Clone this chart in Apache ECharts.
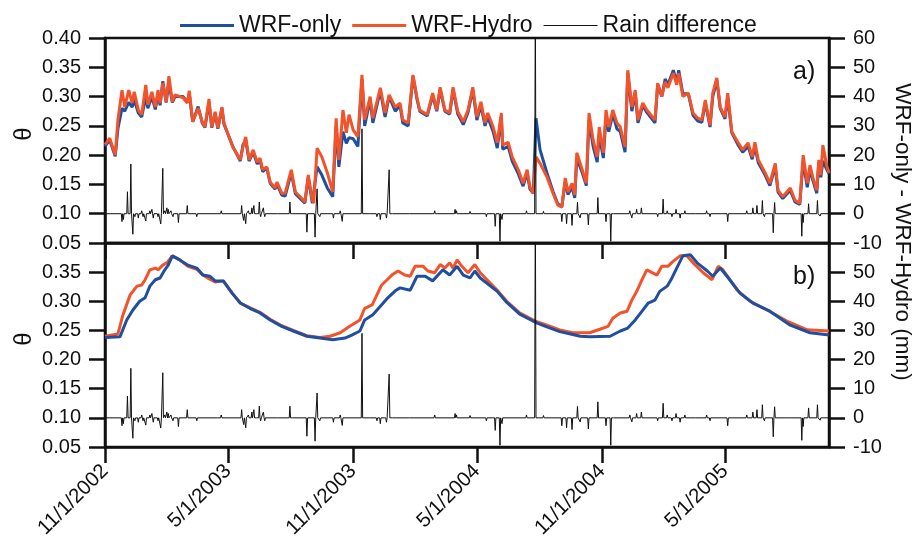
<!DOCTYPE html>
<html><head><meta charset="utf-8">
<script src="https://cdn.jsdelivr.net/npm/echarts@6/dist/echarts.min.js"></script>
<style>html,body{margin:0;padding:0;background:#fff}#c{width:917px;height:543px}</style>
</head><body><div id="c"></div>
<script>
// ---- x ticks (days since 11/1/2002) ----
const xMaxDay = 1065;
const xTickDays = [0, 181, 365, 547, 731, 912];
const xTickLabels = ['11/1/2002', '5/1/2003', '11/1/2003', '5/1/2004', '11/1/2004', '5/1/2005'];

// ---- panel a) ----
const topDays = [0,7,15,19,25,29,35,40,43,49,54,60,63,69,74,78,81,85,90,94,99,103,115,121,124,129,137,143,147,153,157,162,166,172,175,188,199,203,207,212,218,224,228,232,238,243,250,253,260,265,274,280,287,294,299,305,307,312,319,327,335,340,344,350,355,359,365,372,378,382,390,394,405,412,418,427,434,438,446,453,459,463,474,482,488,493,500,507,512,519,527,534,541,547,553,559,563,571,577,583,585,593,599,608,615,621,625,630,634,640,650,659,666,672,677,681,687,691,694,702,708,712,718,724,727,733,737,741,747,753,758,765,769,775,780,784,791,797,809,813,819,824,828,836,841,844,850,858,865,872,878,883,890,894,900,905,912,916,922,931,938,946,952,956,961,971,978,986,990,997,1008,1015,1022,1027,1033,1037,1041,1047,1050,1053,1056,1062,1065];
const topHydro = [.218,.229,.200,.260,.311,.282,.311,.289,.308,.277,.269,.320,.286,.308,.282,.311,.289,.323,.291,.335,.291,.303,.298,.289,.310,.257,.280,.257,.248,.296,.248,.274,.246,.282,.255,.214,.192,.214,.231,.192,.209,.188,.195,.175,.180,.154,.144,.154,.135,.135,.175,.137,.129,.120,.166,.123,.118,.212,.197,.170,.137,.263,.192,.277,.238,.269,.243,.231,.337,.260,.300,.263,.315,.272,.303,.282,.289,.260,.255,.337,.298,.277,.269,.306,.277,.316,.277,.272,.316,.274,.257,.277,.316,.265,.291,.255,.272,.248,.221,.272,.217,.222,.197,.175,.152,.175,.146,.135,.197,.186,.163,.135,.115,.111,.161,.137,.152,.132,.204,.175,.152,.272,.226,.197,.248,.204,.277,.248,.277,.255,.248,.214,.345,.282,.311,.260,.289,.277,.260,.323,.300,.325,.315,.340,.320,.340,.300,.306,.272,.263,.260,.294,.251,.306,.332,.282,.265,.306,.240,.222,.209,.221,.197,.222,.192,.170,.152,.186,.140,.129,.144,.123,.118,.200,.152,.183,.163,.140,.192,.166,.217,.180,.170];
const topOnly = [.215,.226,.198,.245,.280,.275,.290,.282,.295,.272,.265,.300,.280,.300,.278,.305,.285,.326,.290,.325,.290,.300,.300,.290,.305,.257,.283,.255,.247,.290,.247,.272,.245,.280,.253,.215,.190,.218,.225,.190,.205,.185,.192,.172,.178,.152,.142,.150,.132,.130,.170,.134,.126,.118,.162,.118,.115,.180,.166,.144,.129,.250,.180,.240,.220,.230,.228,.215,.330,.250,.295,.255,.310,.265,.300,.275,.285,.255,.250,.335,.295,.275,.267,.302,.275,.312,.275,.270,.312,.270,.252,.273,.312,.260,.285,.250,.265,.240,.212,.265,.210,.215,.190,.168,.147,.170,.142,.135,.263,.209,.170,.138,.117,.112,.155,.133,.145,.127,.195,.170,.148,.260,.215,.188,.235,.195,.265,.240,.270,.245,.240,.205,.340,.275,.305,.255,.285,.273,.255,.320,.300,.330,.320,.345,.325,.345,.305,.305,.268,.258,.256,.290,.248,.300,.328,.280,.262,.300,.238,.218,.205,.215,.193,.215,.187,.166,.148,.180,.137,.126,.140,.120,.116,.190,.145,.175,.158,.135,.188,.162,.190,.175,.168];

// ---- panel b) ----
const botHydroDays = [0,19,26,37,47,54,59,66,74,78,85,91,99,110,122,135,144,154,162,174,187,199,213,228,243,260,277,297,316,331,346,360,375,382,393,400,407,415,422,431,441,449,456,468,475,485,493,500,507,512,518,525,534,544,552,562,577,591,610,633,650,669,688,699,713,728,740,747,758,768,775,783,790,797,812,819,828,836,846,856,865,880,893,902,909,930,949,974,1003,1033,1065];
const botHydro = [.240,.244,.275,.311,.326,.328,.337,.354,.357,.354,.362,.366,.378,.371,.360,.355,.345,.338,.333,.335,.314,.297,.289,.281,.269,.258,.250,.241,.238,.240,.246,.257,.268,.288,.294,.311,.328,.337,.345,.352,.345,.343,.360,.360,.352,.349,.363,.357,.366,.357,.371,.360,.349,.363,.349,.337,.319,.300,.280,.266,.259,.251,.246,.246,.246,.252,.257,.271,.280,.283,.302,.319,.337,.354,.345,.360,.360,.369,.378,.378,.366,.349,.337,.360,.354,.319,.300,.285,.266,.251,.249];
const botOnlyDays = [0,22,32,41,51,59,66,74,81,88,93,99,110,122,135,144,154,162,174,187,199,213,228,243,260,277,297,316,335,353,363,375,382,394,407,416,427,434,449,459,471,482,497,507,518,527,537,544,552,577,591,610,633,650,669,688,699,713,743,758,769,780,790,799,809,816,827,834,841,850,861,871,886,894,905,915,934,953,978,1008,1037,1065];
const botOnly = [.238,.239,.268,.285,.300,.306,.326,.337,.340,.354,.362,.378,.371,.362,.357,.345,.343,.335,.335,.314,.297,.288,.280,.268,.257,.249,.240,.237,.234,.237,.242,.249,.268,.277,.294,.306,.318,.323,.319,.343,.343,.335,.354,.345,.360,.345,.340,.352,.340,.317,.298,.278,.264,.256,.248,.243,.240,.239,.240,.249,.254,.268,.283,.297,.302,.317,.326,.340,.357,.378,.380,.366,.352,.343,.357,.343,.314,.297,.283,.259,.246,.242];

// ---- rain difference spikes (mm), zero elsewhere ----
const rainDays = [7,25,27,33,38,41,44,49,54,56,60,66,69,71,78,82,85,88,91,93,97,100,108,121,135,154,167,171,201,204,207,211,216,219,222,227,229,233,235,255,272,277,297,309,312,316,336,346,349,378,390,400,405,407,414,418,424,449,485,515,517,537,561,574,581,584,620,633,645,672,679,687,695,699,711,725,737,744,747,772,775,782,789,813,821,827,834,840,846,853,870,885,890,916,944,953,959,967,970,983,985,1010,1025,1027,1035,1048,1052];
const rainDiff = [0.6,-2.7,-2,7.5,17,-7,-1,-1.5,1,-1,-2.5,1,1.5,-1.5,-1,-3.5,15.5,1,2,1.5,1,-1,-3,2.8,-1,0.5,0.5,1,2.8,-2.3,-3.4,1,2,2.8,-0.6,4,-1,2,-1,0.5,4,-0.5,-6.3,-8,8.5,-1,-1.5,1,-2.6,29,-0.5,-1,-2,0.5,-1.5,15,-0.5,-0.5,1,1.5,1,0.8,-1,-4.3,-9.4,-2,1,75,0.8,-2.7,-3.4,-4,3.9,-1.4,-3.8,5.5,-2.7,-9.4,0.5,1,-1.4,1.5,2,-1,5,1,-1,1.5,-1.5,1,0.5,1,-1,-2.7,1,2,2.8,4.5,-1,-6.5,3.8,0.5,-7.7,-3,3.4,4.5,-0.8];

const FONT = "'Liberation Sans', Arial, sans-serif";
const BLUE = '#1f4f9e', ORANGE = '#f2532a', INK = '#111';

function pairs(days, vals) { return days.map((d, i) => [d, vals[i]]); }
function rainSeriesData() {
  const out = [[0, 0]];
  for (let i = 0; i < rainDays.length; i++) {
    const d = rainDays[i];
    const last = out[out.length - 1][0];
    if (d - 1 > last) out.push([d - 1, 0]);
    out.push([d, rainDiff[i]]);
    const next = i + 1 < rainDays.length ? rainDays[i + 1] : xMaxDay;
    if (d + 1 < next) out.push([d + 1, 0]);
  }
  out.push([xMaxDay, 0]);
  return out;
}
const rainData = rainSeriesData();

const axisLine = { show: true, onZero: false, lineStyle: { color: INK, width: 2.5 } };
const tick = { show: true, inside: false, length: 16, lineStyle: { color: INK, width: 2.5 } };

function xAxis(idx, labels) {
  return {
    type: 'value', gridIndex: idx, min: 0, max: xMaxDay,
    axisLine: axisLine,
    axisTick: Object.assign({}, tick, { customValues: xTickDays }),
    axisLabel: labels ? {
      show: true, customValues: xTickDays, rotate: 45, margin: 21,
      fontSize: 20.5, fontFamily: FONT, color: INK,
      formatter: v => xTickLabels[xTickDays.indexOf(v)] || ''
    } : { show: false },
    splitLine: { show: false }
  };
}
function thetaAxis(idx, hideMax) {
  return {
    type: 'value', gridIndex: idx, position: 'left', min: 0.05, max: 0.40, interval: 0.05,
    axisLine: axisLine, axisTick: tick, splitLine: { show: false },
    axisLabel: { fontSize: 20, fontFamily: FONT, color: INK, margin: 24, showMaxLabel: !hideMax,
      formatter: v => v.toFixed(2) }
  };
}
function rainAxis(idx, hideMax) {
  return {
    type: 'value', gridIndex: idx, position: 'right', min: -10, max: 60, interval: 10,
    axisLine: axisLine, axisTick: tick, splitLine: { show: false },
    axisLabel: { fontSize: 20, fontFamily: FONT, color: INK, margin: 24, showMaxLabel: !hideMax }
  };
}
function line(name, xi, yi, data, color, width, z) {
  return { name, type: 'line', xAxisIndex: xi, yAxisIndex: yi, data, symbol: 'none', showSymbol: false,
    lineStyle: { color, width }, itemStyle: { color }, z, clip: true, animation: false };
}
function label(text, x, y, size, rot) {
  return { type: 'text', x, y, rotation: rot || 0,
    style: { text, fontSize: size, fontFamily: FONT, fill: INK,
      align: rot ? 'center' : 'left', verticalAlign: 'middle',
      textAlign: rot ? 'center' : 'left', textVerticalAlign: 'middle' } };
}

const chart = echarts.init(document.getElementById('c'), null, { renderer: 'canvas' });
chart.setOption({
  backgroundColor: '#fff',
  animation: false,
  textStyle: { fontFamily: FONT },
  legend: {
    left: 175, top: 9, itemWidth: 54, itemHeight: 3, itemGap: 11, symbolKeepAspect: true,
    textStyle: { fontSize: 23, fontFamily: FONT, color: INK },
    data: [
      { name: 'WRF-only', icon: 'rect' },
      { name: 'WRF-Hydro', icon: 'rect' },
      { name: 'Rain difference', icon: 'path://M0,0H54V1H0Z' }
    ]
  },
  grid: [
    { left: 105, top: 38, width: 724, height: 205, show: true, borderColor: INK, borderWidth: 2.5, outerBoundsMode: 'none', containLabel: false },
    { left: 105, top: 243, width: 724, height: 204, show: true, borderColor: INK, borderWidth: 2.5, outerBoundsMode: 'none', containLabel: false }
  ],
  xAxis: [xAxis(0, false), xAxis(1, true)],
  yAxis: [thetaAxis(0, false), rainAxis(0, false), thetaAxis(1, true), rainAxis(1, true)],
  graphic: [
    label('θ', 24, 134, 24, Math.PI / 2),
    label('θ', 24, 339, 24, Math.PI / 2),
    label('a)', 793, 72, 25),
    label('b)', 793, 277, 25),
    label('WRF-only - WRF-Hydro (mm)', 902, 232, 22.5, -Math.PI / 2)
  ],
  series: [
    line('WRF-only', 0, 0, pairs(topDays, topOnly), BLUE, 3, 2),
    line('WRF-Hydro', 0, 0, pairs(topDays, topHydro), ORANGE, 3, 3),
    line('Rain difference', 0, 1, rainData, INK, 1, 4),
    line('WRF-Hydro', 1, 2, pairs(botHydroDays, botHydro), ORANGE, 3, 2),
    line('WRF-only', 1, 2, pairs(botOnlyDays, botOnly), BLUE, 3, 3),
    line('Rain difference', 1, 3, rainData, INK, 1, 4)
  ]
});
</script>
</body></html>
